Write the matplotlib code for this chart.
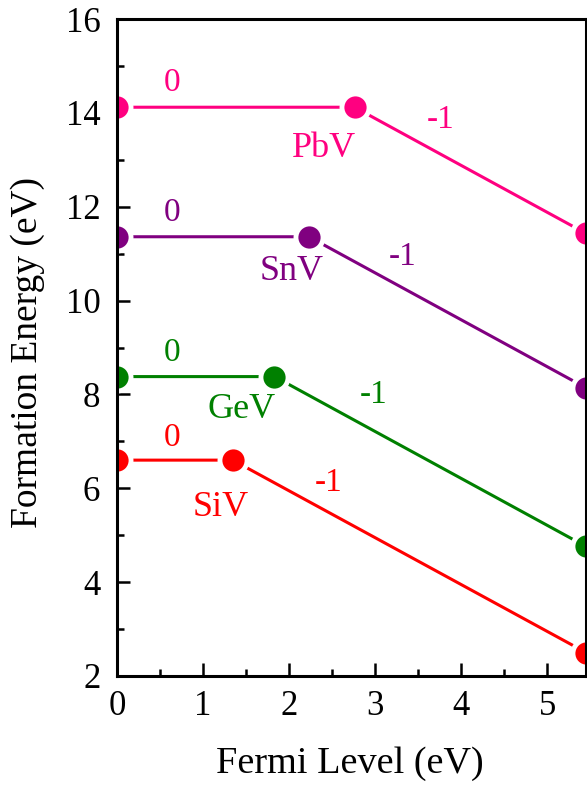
import matplotlib
matplotlib.use("Agg")
import matplotlib.pyplot as plt
from matplotlib.ticker import MultipleLocator

plt.rcParams['font.family'] = ['Liberation Serif', 'DejaVu Serif']

x_max = 5.45
defects = ["SiV", "GeV", "SnV", "PbV"]
colors = ["#FF0000", "#008000", "#800080", "#FF0080"]
# energy of neutral state (flat), transition level (0/-1)
e_neutral = [6.60, 8.38, 11.36, 14.12]
transition = [1.345, 1.83, 2.23, 2.76]
e_end = [2.50, 4.76, 8.14, 11.43]

# annotation positions (x, y) : charge "0", charge "-1", name
zero_pos = [(0.64, 7.07), (0.64, 8.88), (0.64, 11.87), (0.64, 14.64)]
minus_pos = [(2.46, 6.11), (2.98, 7.99), (3.32, 10.93), (3.76, 13.85)]
name_pos = [(1.20, 5.58), (1.45, 7.67), (2.03, 10.61), (2.41, 13.25)]

fig = plt.figure(figsize=(5.87, 7.85), dpi=100)
ax = fig.add_axes([117/587, 1-676/785, (586-117)/587, (676-19)/785])

for i, name in enumerate(defects):
    xs = [0, transition[i], x_max]
    ys = [e_neutral[i], e_neutral[i], e_end[i]]
    c = colors[i]
    ax.plot(xs, ys, color=c, lw=2.2, zorder=2, solid_capstyle='butt')
    ax.plot(xs, ys, ls='none', marker='o', ms=23, mfc='white', mec='none', zorder=3)
    ax.plot(xs, ys, ls='none', marker='o', ms=16, mfc=c, mec='none', zorder=4)
    ax.text(*zero_pos[i], "0", color=c, fontsize=24, ha='center', va='center', zorder=5)
    ax.text(*minus_pos[i], "-1", color=c, fontsize=24, ha='center', va='center', zorder=5)
    ax.text(*name_pos[i], name, color=c, fontsize=26, ha='center', va='center', zorder=5)

ax.set_xlim(0, x_max)
ax.set_ylim(2, 16)
ax.xaxis.set_major_locator(MultipleLocator(1))
ax.xaxis.set_minor_locator(MultipleLocator(0.5))
ax.yaxis.set_major_locator(MultipleLocator(2))
ax.yaxis.set_minor_locator(MultipleLocator(1))
ax.tick_params(which='both', direction='in', top=False, right=False, labelsize=25, width=1.8)
ax.tick_params(which='major', length=9.5)
ax.tick_params(which='minor', length=5)
ax.tick_params(axis='y', pad=12)
ax.tick_params(axis='x', pad=10)
for s in ax.spines.values():
    s.set_linewidth(2.2)
    s.set_zorder(6)

fig.text(350/587, 1-764/785, "Fermi Level (eV)", fontsize=27.5, ha='center', va='center')
fig.text(28/587, 1-352/785, "Formation Energy (eV)", fontsize=27, ha='center', va='center', rotation=90)

fig.savefig("out.png", dpi=100)
